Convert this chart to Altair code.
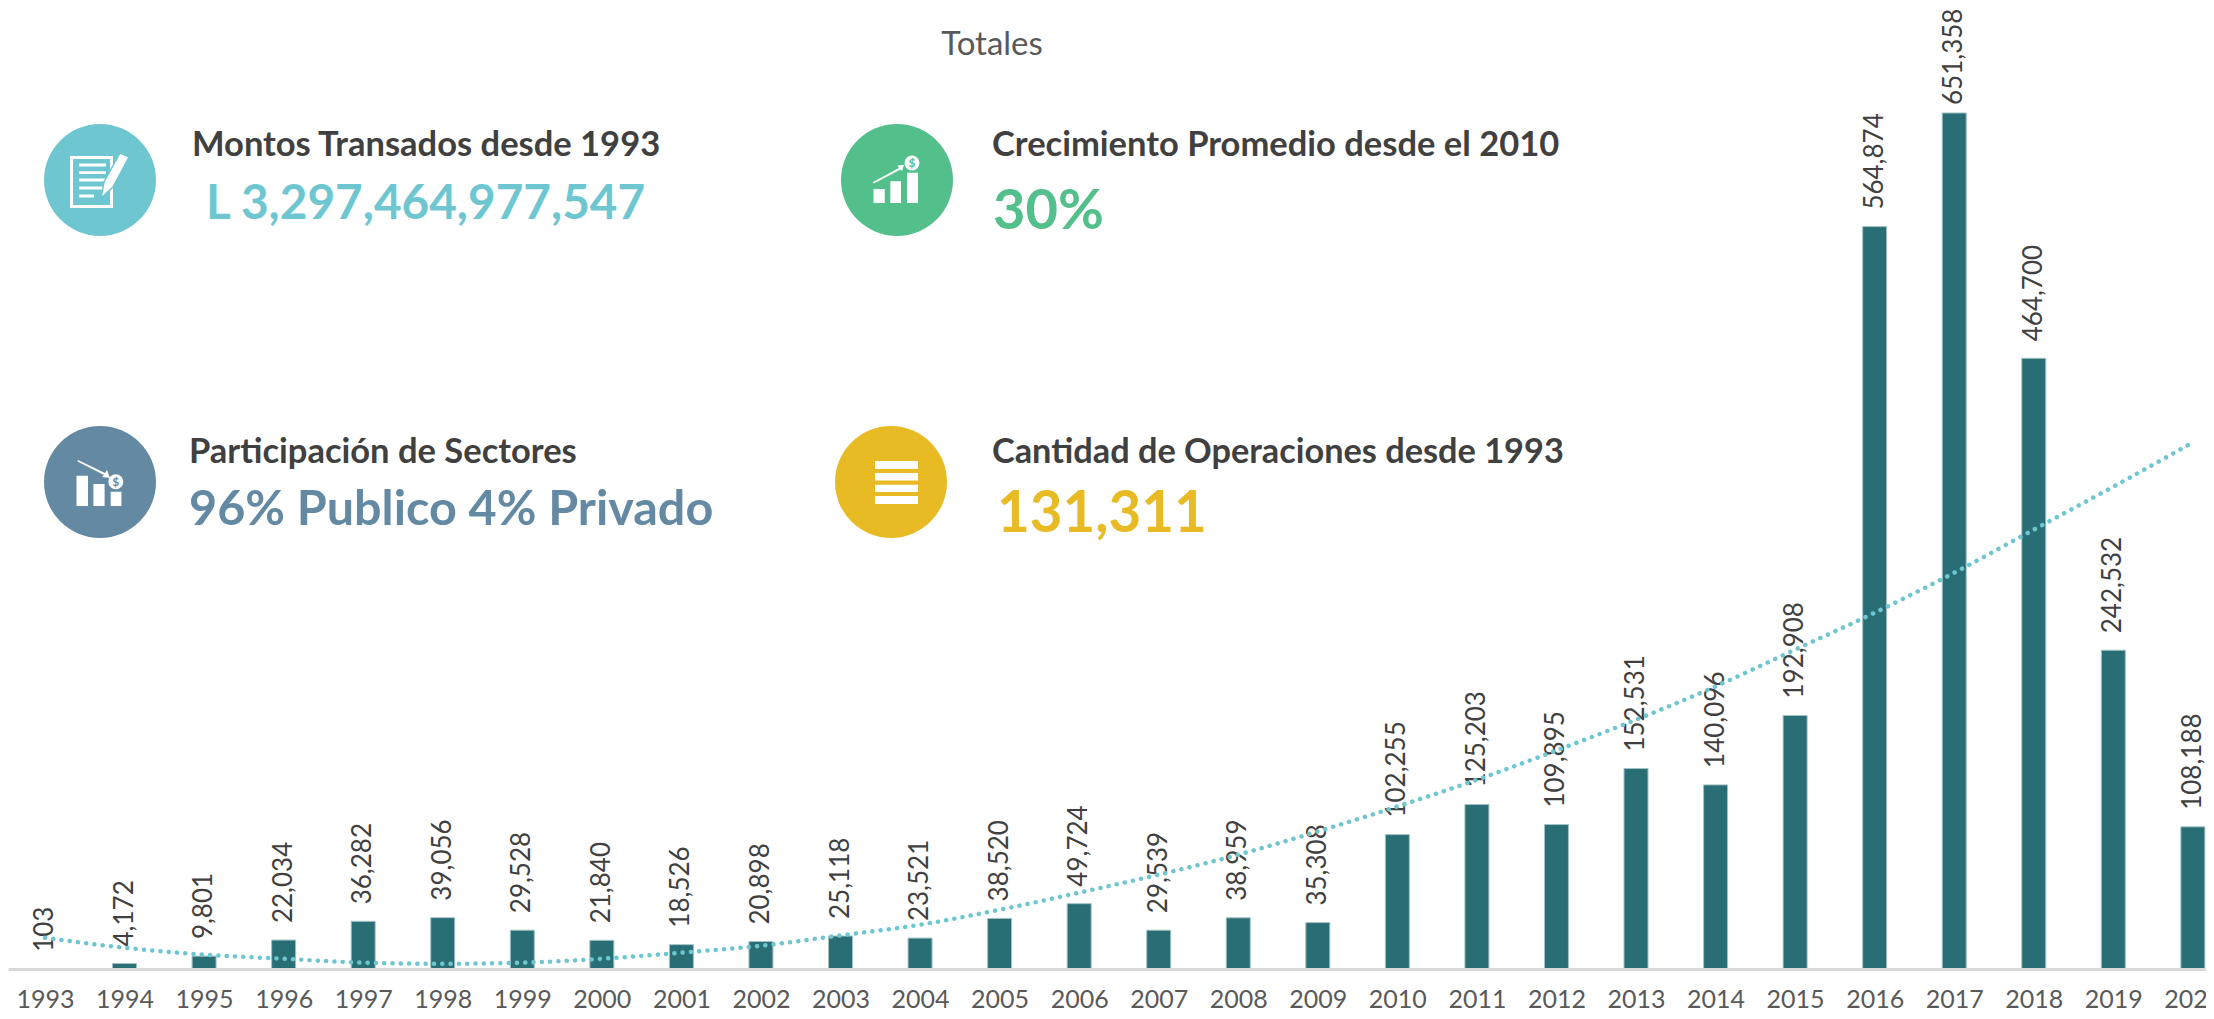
import altair as alt
import pandas as pd

years = list(range(1993, 2021))
operations = [103, 4172, 9801, 22034, 36282, 39056, 29528, 21840, 18526, 20898,
              25118, 23521, 38520, 49724, 29539, 38959, 35308, 102255, 125203, 109895,
              152531, 140096, 192908, 564874, 651358, 464700, 242532, 108188]
trend = [23800, 16200, 10900, 7800, 4800, 4000, 4800, 7800, 12400, 17700,
         25600, 33700, 45100, 58100, 71800, 87000, 104700, 123700, 144000, 166300,
         189700, 215000, 243000, 271100, 301500, 334300, 367000, 400700]

title_text = "Totales"
heading_amount = "Montos Transados desde 1993"
value_amount = "L 3,297,464,977,547"
heading_growth = "Crecimiento Promedio desde el 2010"
value_growth = "30%"
heading_sector = "Participación de Sectores"
value_sector = "96% Publico 4% Privado"
heading_count = "Cantidad de Operaciones desde 1993"
value_count = "131,311"

FONT = "Lato"
TEAL = "#6EC7D0"
GREEN = "#53BF8B"
BLUE = "#6389A3"
YELLOW = "#E8BB25"
BAR = "#2A6E75"
DARK = "#404040"

df = pd.DataFrame({"year": years, "ops": operations, "trend": trend})
df["label"] = [f"{v:,}" for v in operations]

x_scale = alt.Scale(domain=[1992.535, 2020.165], nice=False, zero=False, padding=0)
y_scale = alt.Scale(domain=[0, 731225], nice=False, zero=False, padding=0)
x_axis = alt.Axis(values=years, format="d", ticks=False, grid=False,
                  labelFlush=False, labelOverlap=False, labelBound=False,
                  labelFont=FONT, labelFontSize=25, labelColor="#595959",
                  labelPadding=18, domainColor="#D9D9D9", domainWidth=3, zindex=1)
x_enc = alt.X("year:Q", scale=x_scale, title=None, axis=x_axis)
y_enc = alt.Y("ops:Q", scale=y_scale, title=None, axis=None)

base = alt.Chart(df)

bars = base.mark_bar(size=24, color=BAR, stroke="#A3C2C5", strokeWidth=1).encode(x=x_enc, y=y_enc)
labels = base.transform_filter(alt.datum.ops < 600000).mark_text(
    angle=270, align="left", baseline="middle", dx=17, font=FONT, fontSize=26, color=DARK
).encode(x=x_enc, y=y_enc, text="label:N")
peak_label = base.transform_filter(alt.datum.ops >= 600000).mark_text(
    angle=270, align="left", baseline="middle", dx=8, font=FONT, fontSize=26, color=DARK
).encode(x=x_enc, y=y_enc, text="label:N")
trend_line = base.mark_line(color=TEAL, strokeWidth=4.5, strokeDash=[0.1, 8.2], strokeCap="round",
                            interpolate="monotone").encode(
    x=x_enc, y=alt.Y("trend:Q", scale=y_scale, title=None, axis=None))


def text_at(s, px, py, size, color, weight="bold", align="left"):
    return alt.Chart().mark_text(text=s, font=FONT, fontSize=size, color=color, fontWeight=weight,
                                 align=align, baseline="middle").encode(
        x=alt.value(px - 8), y=alt.value(py - 8))


def disc(px, py, diameter, color):
    return alt.Chart().mark_circle(size=diameter ** 2, color=color, opacity=1).encode(
        x=alt.value(px - 8), y=alt.value(py - 8))


def poly(points, cx, cy):
    pts = [f"{(x - cx) / 56:.4f} {(y - cy) / 56:.4f}" for x, y in points]
    return "M" + " L".join(pts) + " Z"


def box(x0, y0, x1, y1, cx, cy, reverse=False):
    pts = [(x0, y0), (x1, y0), (x1, y1), (x0, y1)]
    return poly(pts[::-1] if reverse else pts, cx, cy)


def icon(paths, cx, cy, fill="white", stroke=None):
    kw = {"stroke": stroke, "strokeWidth": 1.5} if stroke else {"strokeWidth": 0}
    return alt.Chart().mark_point(shape=" ".join(paths), size=12544, filled=True, fill=fill,
                                  opacity=1, **kw).encode(
        x=alt.value(cx - 8), y=alt.value(cy - 8))


# Document icon
c1 = (100, 180)
doc = [box(70, 156, 113, 208, *c1), box(73, 159, 110, 205, *c1, reverse=True)]
for yy, xe in [(165, 106), (172.7, 106), (180, 106), (188, 106), (196, 94)]:
    doc.append(box(79, yy - 1.4, xe, yy + 1.4, *c1))
pen = [poly([(101, 198), (104, 182), (120, 153), (129, 157), (113, 187)], *c1)]

# Falling bars icon
c2 = (100, 482)
fall = [box(76.5, 475.7, 88, 506, *c2), box(93.4, 484, 104.6, 506, *c2), box(110.7, 491.7, 121.4, 506, *c2),
        poly([(78, 460), (105, 473), (107, 470), (110, 478), (102, 477), (104, 475), (77.5, 461.5)], *c2)]

# Rising bars icon
c3 = (897, 180)
rise = [box(873.5, 189, 884.7, 203, *c3), box(890.3, 181.3, 901, 203, *c3), box(907, 172.7, 918, 203, *c3),
        poly([(873, 182), (899, 168), (897.5, 165.5), (904, 165), (902, 171), (900.5, 169.5), (873.8, 183.5)], *c3)]

# List icon
c4 = (891, 482)
bars_icon = [box(875, 461, 918, 469, *c4), box(875, 473, 918, 480.5, *c4),
             box(875, 484.7, 918, 492, *c4), box(875, 496, 918, 504, *c4)]

chart = alt.layer(
    bars, labels, peak_label, trend_line,
    text_at(title_text, 992, 45, 33, "#595959", weight="normal", align="center"),
    disc(100, 180, 112, TEAL), icon(doc, *c1), icon(pen, *c1, stroke=TEAL),
    disc(897, 180, 112, GREEN), icon(rise, *c3), disc(912, 163, 15, "white"),
    text_at("$", 912, 163, 12, GREEN, align="center"),
    disc(100, 482, 112, BLUE), icon(fall, *c2), disc(115.8, 481.7, 15, "white"),
    text_at("$", 115.8, 481.7, 12, BLUE, align="center"),
    disc(891, 482, 112, YELLOW), icon(bars_icon, *c4),
    text_at(heading_amount, 192, 146, 34.5, DARK),
    text_at(value_amount, 206, 205, 47.7, TEAL),
    text_at(heading_growth, 992, 146, 34.5, DARK),
    text_at(value_growth, 993, 212, 56, GREEN),
    text_at(heading_sector, 189, 453, 34.5, DARK),
    text_at(value_sector, 189, 510, 48.5, BLUE),
    text_at(heading_count, 992, 453, 34.3, DARK),
    text_at(value_count, 997, 515, 56.5, YELLOW),
).properties(
    width=2198, height=961,
    autosize=alt.AutoSizeParams(type="none"),
    padding={"left": 0, "top": 0, "right": 0, "bottom": 42},
).configure_view(stroke=None)

chart.save("out.html", embed_options={"renderer": "svg", "actions": False})
